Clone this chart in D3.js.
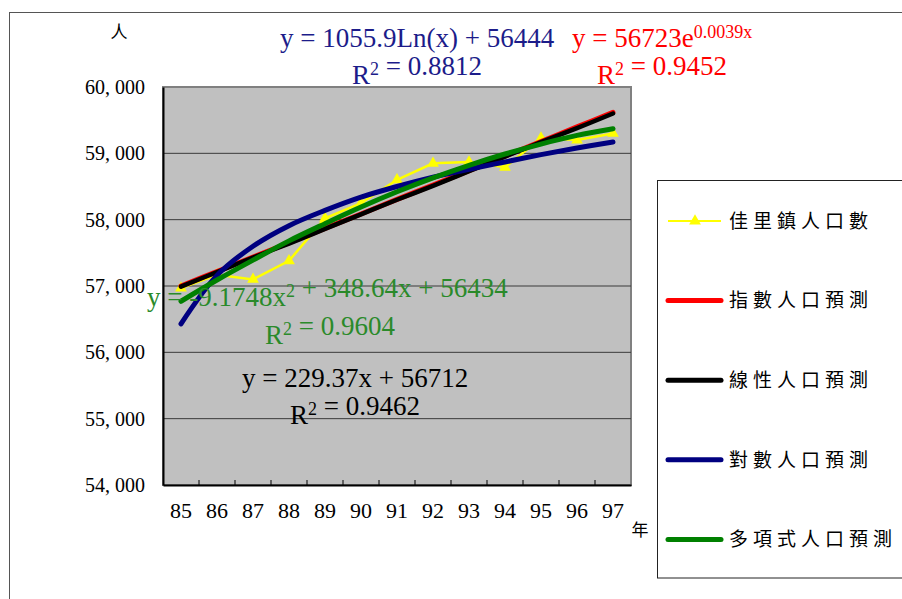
<!DOCTYPE html>
<html>
<head>
<meta charset="utf-8">
<script src="https://cdn.jsdelivr.net/npm/d3@7"></script>
<style>
  body { margin: 0; background: #fff; }
  svg { display: block; }
</style>
</head>
<body>
<script>
let width = 902, height = 599;
let plot = { left: 163, right: 631, top: 87, bottom: 485 };

// data
let years = ['85', '86', '87', '88', '89', '90', '91', '92', '93', '94', '95', '96', '97']
let population = [56970, 57170, 57100, 57380, 58020, 58250, 58600, 58850, 58870, 58790, 59230, 59200, 59300]
let expTrend = [57000, 57218, 57436, 57652, 57868, 58086, 58306, 58522, 58740, 58958, 59178, 59398, 59618]
let linTrend = [56990, 57210, 57430, 57640, 57860, 58080, 58300, 58510, 58730, 58950, 59170, 59380, 59600]
let logTrend = [56430, 57160, 57600, 57910, 58140, 58340, 58500, 58640, 58760, 58870, 58980, 59080, 59170]
let polyTrend = [56770, 57090, 57390, 57680, 57940, 58190, 58420, 58630, 58820, 58990, 59140, 59270, 59370]
let yTicks = [54000, 55000, 56000, 57000, 58000, 59000, 60000]
let legendNames = ['佳里鎮人口數', '指數人口預測', '線性人口預測', '對數人口預測', '多項式人口預測']
let legendColors = ['#ffff00', '#ff0000', '#000000', '#000080', '#008000']

let svg = d3.select('body').append('svg')
    .attr('width', width).attr('height', height)

// outer frame
svg.append('rect')
    .attr('x', 9.5).attr('y', 12.5)
    .attr('width', 1000).attr('height', 1000)
    .attr('fill', 'none').attr('stroke', '#555')

let x = d3.scaleBand()
    .domain(years)
    .range([plot.left, plot.right])
    .padding(0)
let y = d3.scaleLinear()
    .domain([54000, 60000])
    .range([plot.bottom, plot.top])
let cx = d => x(d) + x.bandwidth() / 2

// plot area
svg.append('rect')
    .attr('x', plot.left).attr('y', plot.top)
    .attr('width', plot.right - plot.left).attr('height', plot.bottom - plot.top)
    .attr('fill', '#c0c0c0').attr('stroke', '#808080').attr('stroke-width', 2)

// gridlines
svg.append('g')
    .selectAll('line')
    .data(yTicks.slice(1, -1))
    .join('line')
    .attr('x1', plot.left).attr('x2', plot.right)
    .attr('y1', d => y(d)).attr('y2', d => y(d))
    .attr('stroke', '#3a3a3a').attr('stroke-width', 1)

// y axis
let yAxis = g => g
    .attr('transform', `translate(${plot.left}, 0)`)
    .call(d3.axisLeft(y).tickValues(yTicks).tickSize(0).tickPadding(18)
        .tickFormat(d => d3.format(',')(d).replace(',', ', ')))
    .call(g => g.select('.domain').attr('stroke', '#000').attr('stroke-width', 2))
    .call(g => g.selectAll('text')
        .attr('font-family', '"Liberation Serif", serif')
        .attr('font-size', 20).attr('fill', '#000'))
svg.append('g').call(yAxis)

// x axis
let xAxis = g => g
    .attr('transform', `translate(0, ${plot.bottom})`)
    .call(d3.axisBottom(x).tickSize(0).tickPadding(17))
    .call(g => g.select('.domain').attr('stroke', '#000').attr('stroke-width', 2))
    .call(g => g.selectAll('text')
        .attr('font-family', '"Liberation Serif", serif')
        .attr('font-size', 22).attr('fill', '#000'))
svg.append('g').call(xAxis)

// category boundary ticks, pointing inward
svg.append('g')
    .selectAll('line')
    .data(years.slice(1))
    .join('line')
    .attr('x1', d => x(d)).attr('x2', d => x(d))
    .attr('y1', plot.bottom).attr('y2', plot.bottom - 5)
    .attr('stroke', '#000').attr('stroke-width', 1)

// axis units
svg.append('text').attr('x', 119).attr('y', 38)
    .attr('text-anchor', 'middle')
    .attr('font-family', '"Noto Sans CJK TC", sans-serif').attr('font-size', 17)
    .text('人')
svg.append('text').attr('x', 640).attr('y', 536)
    .attr('text-anchor', 'middle')
    .attr('font-family', '"Noto Sans CJK TC", sans-serif').attr('font-size', 17)
    .text('年')

// data series
let line = d3.line()
    .x((d, i) => cx(years[i]))
    .y(d => y(d))
svg.append('path')
    .datum(population)
    .attr('d', line)
    .attr('fill', 'none').attr('stroke', '#ffff00').attr('stroke-width', 2.5)
svg.append('g')
    .selectAll('path')
    .data(population)
    .join('path')
    .attr('transform', (d, i) => `translate(${cx(years[i])}, ${y(d)})`)
    .attr('d', d3.symbol(d3.symbolTriangle, 60))
    .attr('fill', '#ffff00')

// trend lines
let smooth = d3.line()
    .x((d, i) => cx(years[i]))
    .y(d => y(d))
    .curve(d3.curveCatmullRom.alpha(0.5))
let trends = [
    [expTrend, '#ff0000', 5],
    [linTrend, '#000000', 4.5],
    [logTrend, '#000080', 5],
    [polyTrend, '#008000', 5]
]
trends.forEach(([values, color, w]) => {
    svg.append('path')
        .datum(values)
        .attr('d', smooth)
        .attr('fill', 'none')
        .attr('stroke', color).attr('stroke-width', w)
        .attr('stroke-linecap', 'round')
})

// equation labels; an inner array marks raised (exponent) text
let label = (px, py, color, parts) => {
    let t = svg.append('text')
        .attr('transform', `translate(${px}, ${py})`)
        .attr('font-family', '"Liberation Serif", serif')
        .attr('font-size', 27)
        .attr('fill', color)
    parts.forEach(p => {
        let span = t.append('tspan')
        if (Array.isArray(p)) {
            span.attr('font-size', 18).attr('dy', -9).text(p[0])
            t.append('tspan').attr('dy', 9).text('')
        } else {
            span.text(p)
        }
    })
}
label(280, 47, '#1c1c8a', ['y = 1055.9Ln(x) + 56444'])
label(352, 84, '#1c1c8a', ['R', ['2'], ' = 0.8812'])
label(572, 47, '#ff0000', ['y = 56723e', ['0.0039x']])
label(597, 84, '#ff0000', ['R', ['2'], ' = 0.9452'])
label(147, 306, '#2a8a2a', ['y = -9.1748x', ['2'], ' + 348.64x + 56434'])
label(265, 344, '#2a8a2a', ['R', ['2'], ' = 0.9604'])
label(242, 387, '#000000', ['y = 229.37x + 56712'])
label(290, 424, '#000000', ['R', ['2'], ' = 0.9462'])

// legend
let legend = svg.append('g')
legend.append('rect')
    .attr('x', 657.5).attr('y', 180.5)
    .attr('width', 300).attr('height', 397.5)
    .attr('fill', '#fff').attr('stroke', '#222')
let rows = legend.selectAll('g.row')
    .data(legendNames)
    .join('g')
    .attr('class', 'row')
    .attr('transform', (d, i) => `translate(0, ${221 + i * 79.6})`)
rows.append('line')
    .attr('x1', 668).attr('x2', 721)
    .attr('stroke', (d, i) => legendColors[i])
    .attr('stroke-width', (d, i) => i === 0 ? 2 : 5)
    .attr('stroke-linecap', (d, i) => i === 0 ? 'butt' : 'round')
rows.filter((d, i) => i === 0)
    .append('path')
    .attr('transform', 'translate(695, 0)')
    .attr('d', d3.symbol(d3.symbolTriangle, 60))
    .attr('fill', '#ffff00')
rows.append('text')
    .attr('x', 729).attr('dy', '0.36em')
    .attr('font-family', '"Noto Sans CJK TC", sans-serif')
    .attr('font-size', 19)
    .attr('letter-spacing', 5)
    .text(d => d)
</script>
</body>
</html>
